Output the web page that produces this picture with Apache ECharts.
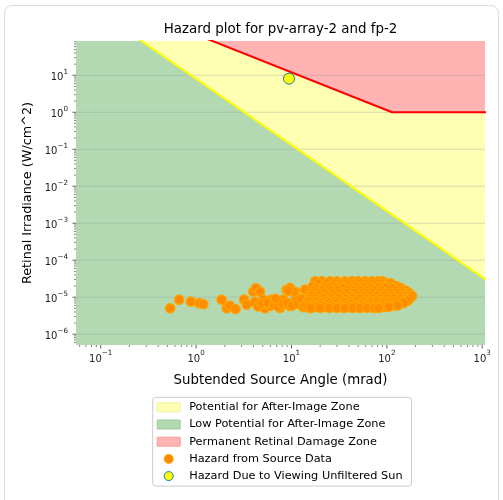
<!DOCTYPE html>
<html><head><meta charset="utf-8">
<script src="https://cdn.jsdelivr.net/npm/echarts@6/dist/echarts.min.js"></script>
<style>
html,body{margin:0;padding:0;background:#fff;}
#card{position:absolute;left:4px;top:5px;width:495px;height:520px;box-sizing:border-box;border:1px solid #dcdcdc;border-radius:8px;}
#chart{position:absolute;left:0;top:0;width:503px;height:500px;}
</style></head>
<body><div id="card"></div><div id="chart"></div>
<script>
// ---- data ----
const titleText = 'Hazard plot for pv-array-2 and fp-2';
const xName = 'Subtended Source Angle (mrad)';
const yName = 'Retinal Irradiance (W/cm^2)';
const xRange = [0.055, 1070];
const yRange = [5.1e-7, 84.5];
const xTickExps = [-1, 0, 1, 2, 3];
const xTickLabels = ['{b|10}{s|\u22121}', '{b|10}{s|0}', '{b|10}{s|1}', '{b|10}{s|2}', '{b|10}{s|3}'];
const yTickExps = [-6, -5, -4, -3, -2, -1, 0, 1];
const yTickLabels = ['{b|10}{s|\u22126}', '{b|10}{s|\u22125}', '{b|10}{s|\u22124}', '{b|10}{s|\u22123}', '{b|10}{s|\u22122}', '{b|10}{s|\u22121}', '{b|10}{s|0}', '{b|10}{s|1}'];
// boundary lines (angle mrad, irradiance W/cm^2)
const afterImageLine = [[0.0316, 3840], [2000, 1.01e-5]];
const retinalBurnLine = [[0.0316, 4335], [113.5, 1], [2000, 1]];
// sun
const sunPoint = [[9.42, 8.1]];
// hazard from source data: scattered points
const sourceSparse = [
 [0.534,5.0e-6],[0.664,8.55e-6],[0.881,7.6e-6],[1.08,6.9e-6],[1.19,6.5e-6],[1.85,8.55e-6],
 [2.09,5.0e-6],[2.26,5.9e-6],[2.59,4.8e-6],[3.19,8.55e-6],[3.39,6.3e-6],[3.97,1.42e-5],
 [4.24,1.75e-5],[4.67,1.42e-5],[4.14,7.35e-6],[4.48,5.6e-6],[5.27,5.0e-6],[5.06,8.55e-6],
 [6.19,8.55e-6],[7.0,7.8e-6],[5.94,5.85e-6],[8.2,8.55e-6],[8.91,1.6e-5],[9.64,1.78e-5],
 [10.9,1.4e-5],[9.64,5.75e-6],[7.57,5.14e-6],[12.3,6.4e-6],[13.9,1.6e-5],[14.4,7.8e-6],
 [11.1,8.55e-6],[15.6,5.14e-6],[4.9,6.6e-6],[5.6,7.0e-6],[6.6,6.2e-6],[7.3,5.6e-6],
 [8.0,6.6e-6],[6.8,9.0e-6],[9.0,7.0e-6],[10.2,6.0e-6],[11.6,6.8e-6],[12.9,9.0e-6],
 [13.3,5.4e-6],[10.5,1.42e-5],[9.3,1.5e-5]
];
// hazard from source data: dense band, one irradiance level per row
const bandIrradiance = [2.7e-5, 2.35e-5, 2.0e-5, 1.75e-5, 1.5e-5, 1.28e-5, 1.08e-5, 9.3e-6, 8e-6, 7e-6, 6e-6, 5.5e-6, 5.1e-6];
const bandAngles = [
 [17.7,20.7,25.4,29.8,36.5,43.2,49.9,59.2,70,80,90],
 [19,23,28,33,39,46,54,64,76,90,104,110],
 [16.8,22,27,33,40,47,55,65,77,92,110,125],
 [18,21.5,25,30,35,42,50,58,68,80,95,115,135,140],
 [17,21,26,31,38,45,53,62,74,88,105,125,145,158],
 [16,19.5,23,27,32,38,46,55,63,72,83,97,112,130,150,165,172],
 [16,19,24,29,35,42,50,58,68,80,96,115,138,160,180,184],
 [15.5,18,22,26,31,37,44,52,60,70,85,100,118,140,162,175],
 [15,18.5,23,28,34,41,48,57,67,79,94,112,134,152,165],
 [14.5,17.5,21,25,30,36,43,55,66,78,92,108,125,145,150],
 [14,17,21,26,32,38,46,54,64,76,90,108,122,130],
 [15,18,22,27,33,40,48,57,68,80,95,105],
 [16,20,25,30,36,44,52,62,74,82]
];
const legendNames = ['Potential for After-Image Zone','Low Potential for After-Image Zone','Permanent Retinal Damage Zone','Hazard from Source Data','Hazard Due to Viewing Unfiltered Sun'];

// build scatter data table from the arrays above
const sourcePoints = sourceSparse.slice();
bandAngles.forEach((row, i) => row.forEach(a => sourcePoints.push([a, bandIrradiance[i]])));

// ---- axis decorations (grid lines, major/minor ticks) ----
const decor = [];
yTickExps.forEach(e => { decor.push([xRange[0], Math.pow(10, e), 0]); decor.push([xRange[0], Math.pow(10, e), 1]); });
for (let e = -7; e <= 1; e++) for (let m = 2; m <= 9; m++) { const v = m * Math.pow(10, e); if (v > yRange[0] && v < yRange[1]) decor.push([xRange[0], v, 2]); }
xTickExps.forEach(e => decor.push([Math.pow(10, e), yRange[0], 3]));
for (let e = -2; e <= 3; e++) for (let m = 2; m <= 9; m++) { const v = m * Math.pow(10, e); if (v > xRange[0] && v < xRange[1]) decor.push([v, yRange[0], 4]); }

function labelFor(exps, labels) {
  return function (v) {
    const e = Math.log10(v); const r = Math.round(e);
    if (Math.abs(e - r) > 1e-6) return '';
    const i = exps.indexOf(r); return i >= 0 ? labels[i] : '';
  };
}
const FONT = 'DejaVu Sans';
const supRich = {
  b: {fontSize: 10, lineHeight: 14, color: '#222', fontFamily: FONT, verticalAlign: 'bottom'},
  s: {fontSize: 7.2, lineHeight: 8, color: '#222', fontFamily: FONT, verticalAlign: 'top'}
};

const chart = echarts.init(document.getElementById('chart'), null, {renderer: 'canvas'});
chart.setOption({
  animation: false,
  textStyle: {fontFamily: FONT},
  grid: {left: 76, right: 18, top: 41, bottom: 155},
  graphic: [{type: 'text', x: 280.5, y: 30, style: {text: titleText, font: '13.4px "DejaVu Sans"', fill: '#000', textAlign: 'center', textVerticalAlign: 'middle'}}],
  legend: {
    orient: 'vertical', left: 152.7, top: 397.3,
    padding: [4.5, 9, 4.5, 4],
    itemWidth: 23, itemHeight: 9, itemGap: 6.2,
    borderColor: '#cccccc', borderWidth: 1, borderRadius: 3, backgroundColor: '#fff',
    textStyle: {fontFamily: FONT, fontSize: 11.3, color: '#000', padding: [0, 0, 0, 4]},
    selectedMode: false,
    data: [
      {name: legendNames[0], icon: 'rect', itemStyle: {color: '#ffffb3', borderColor: '#f2f2a0', borderWidth: 1}},
      {name: legendNames[1], icon: 'rect', itemStyle: {color: '#b3d9b3', borderColor: '#9fcb9f', borderWidth: 1}},
      {name: legendNames[2], icon: 'rect', itemStyle: {color: '#ffb3b3', borderColor: '#f59f9f', borderWidth: 1}},
      {name: legendNames[3], icon: 'circle', itemStyle: {color: '#ff8c00', borderColor: '#ffa500', borderWidth: 1}},
      {name: legendNames[4], icon: 'circle', itemStyle: {color: '#ffff00', borderColor: '#1f77b4', borderWidth: 1}}
    ]
  },
  xAxis: {
    type: 'log', logBase: 10, min: xRange[0], max: xRange[1],
    axisLine: {show: false}, axisTick: {show: false}, splitLine: {show: false},
    axisLabel: {formatter: labelFor(xTickExps, xTickLabels), rich: supRich, margin: 5},
    name: xName, nameLocation: 'middle', nameGap: 29,
    nameTextStyle: {fontSize: 13.3, color: '#000', fontFamily: FONT}
  },
  yAxis: {
    type: 'log', logBase: 10, min: yRange[0], max: yRange[1],
    axisLine: {show: false}, axisTick: {show: false}, splitLine: {show: false},
    axisLabel: {formatter: labelFor(yTickExps, yTickLabels), rich: supRich, margin: 8},
    name: yName, nameLocation: 'middle', nameGap: 41,
    nameTextStyle: {fontSize: 12.8, color: '#000', fontFamily: FONT}
  },
  series: [
    {name: legendNames[0], type: 'line', data: retinalBurnLine, symbol: 'none', z: 1, silent: true,
     lineStyle: {width: 0, color: '#ffffb3'}, itemStyle: {color: '#ffffb3'}, areaStyle: {color: '#ffffb3', opacity: 1, origin: 'start'}},
    {name: legendNames[1], type: 'line', data: afterImageLine, symbol: 'none', z: 1, silent: true,
     lineStyle: {width: 0, color: '#b3d9b3'}, itemStyle: {color: '#b3d9b3'}, areaStyle: {color: '#b3d9b3', opacity: 1, origin: 'start'}},
    {name: legendNames[2], type: 'line', data: retinalBurnLine, symbol: 'none', z: 1, silent: true,
     lineStyle: {width: 0, color: '#ffb3b3'}, itemStyle: {color: '#ffb3b3'}, areaStyle: {color: '#ffb3b3', opacity: 1, origin: 'end'}},
    {type: 'custom', z: 2, silent: true, data: decor, encode: {x: 0, y: 1},
     renderItem: function (params, api) {
       const cs = params.coordSys; const f = api.value(2);
       const p = api.coord([api.value(0), api.value(1)]);
       const bot = cs.y + cs.height;
       let shape, stroke = '#333', lw = 0.8;
       if (f === 0) { shape = {x1: cs.x, y1: p[1], x2: cs.x + cs.width, y2: p[1]}; stroke = 'rgba(150,150,150,0.45)'; lw = 0.8; }
       else if (f === 1) shape = {x1: cs.x - 3.5, y1: p[1], x2: cs.x, y2: p[1]};
       else if (f === 2) { shape = {x1: cs.x - 2, y1: p[1], x2: cs.x, y2: p[1]}; lw = 0.6; }
       else if (f === 3) shape = {x1: p[0], y1: bot, x2: p[0], y2: bot + 3.5};
       else { shape = {x1: p[0], y1: bot, x2: p[0], y2: bot + 2}; lw = 0.6; }
       return {type: 'line', shape: shape, style: {stroke: stroke, lineWidth: lw}};
     }},
    {type: 'line', data: afterImageLine, symbol: 'none', z: 3, silent: true, lineStyle: {color: '#ffff00', width: 2}},
    {type: 'line', data: retinalBurnLine, symbol: 'none', z: 3, silent: true, lineStyle: {color: '#ff0000', width: 2}},
    {name: legendNames[3], type: 'scatter', data: sourcePoints, z: 4, symbolSize: 9.5, large: false,
     itemStyle: {color: '#ff8c00', borderColor: '#ffa500', borderWidth: 1.2, opacity: 1}},
    {name: legendNames[4], type: 'scatter', data: sunPoint, z: 5, symbolSize: 11,
     itemStyle: {color: '#ffff00', borderColor: '#1f77b4', borderWidth: 1, opacity: 1}}
  ]
});
</script></body></html>
